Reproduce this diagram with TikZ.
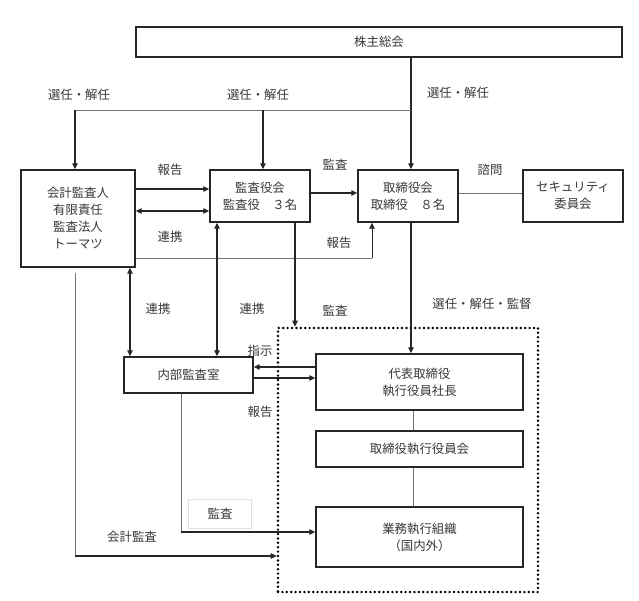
\documentclass[tikz,border=0pt]{standalone}
\usepackage{fontspec}
\newfontfamily\jp{Noto Sans CJK JP}
\usetikzlibrary{arrows.meta}
\begin{document}
\begin{tikzpicture}[x=1pt,y=-1pt,
  font=\jp\fontsize{12.4}{17}\selectfont,
  txt/.style={text=black!78},
  box/.style={draw=black!85, line width=1.4pt, align=center, text=black!78, inner sep=0pt},
  arr/.style={draw=black!85, line width=1.1pt, -{Triangle[length=6pt,width=5.5pt]}},
  darr/.style={draw=black!85, line width=1.1pt, {Triangle[length=6pt,width=5.5pt]}-{Triangle[length=6pt,width=5.5pt]}},
  gline/.style={draw=black!55, line width=0.8pt},
  dotbox/.style={draw=black, line width=2.7pt, dash pattern=on 0pt off 4.4pt, line cap=round, inner sep=0pt}
]
\useasboundingbox (0,0) rectangle (639,600);
\fill[white] (0,0) rectangle (639,600);

% boxes
\node[box, minimum width=486pt, minimum height=30pt] (kabu) at (379,42) {株主総会};
\node[box, minimum width=114pt, minimum height=97pt] (kaikei) at (78,218.5) {会計監査人\\有限責任\\監査法人\\トーマツ};
\node[box, minimum width=100pt, minimum height=52pt] (kanyaku) at (260,196) {監査役会\\監査役　３名};
\node[box, minimum width=100pt, minimum height=52pt] (tori) at (408,196) {取締役会\\取締役　８名};
\node[box, minimum width=100pt, minimum height=52pt] (sec) at (573,196) {セキュリティ\\委員会};
\node[box, minimum width=129pt, minimum height=36pt] (naibu) at (188.5,375) {内部監査室};
\node[dotbox, minimum width=260pt, minimum height=264pt] (exec) at (408,460) {};
\node[box, minimum width=207pt, minimum height=56pt] (daihyo) at (419.5,382) {代表取締役\\執行役員社長};
\node[box, minimum width=207pt, minimum height=36pt] (kaigi) at (419.5,449) {取締役執行役員会};
\node[box, minimum width=207pt, minimum height=60pt] (gyomu) at (419.5,537) {業務執行組織\\（国内外）};

% helper coordinates
\coordinate (c1) at (75,110);
\coordinate (c2) at (263,110);
\coordinate (c3) at (411,110);

% election lines
\draw[arr] (kabu.south -| c3) -- (tori.north -| c3);
\draw[gline] (c1) -- (c3);
\draw[arr] (c1) -- (kaikei.north -| c1);
\draw[arr] (c2) -- (kanyaku.north -| c2);

% auditor <-> audit board
\draw[arr] (kaikei.east |- 0,189) -- (kanyaku.west |- 0,189);
\draw[darr] (kaikei.east |- 0,211) -- (kanyaku.west |- 0,211);
% audit board -> board
\draw[arr] (kanyaku.east |- 0,193) -- (tori.west |- 0,193);
% board -- security
\draw[gline] (tori.east |- 0,193) -- (sec.west |- 0,193);
% auditor report to board
\coordinate (r1) at (372,258);
\draw[gline] (kaikei.east |- r1) -- (r1);
\draw[arr, line width=0.9pt] (r1) -- (tori.south -| r1);

% links to internal audit
\draw[darr] (kaikei.south -| 130,0) -- (naibu.north -| 130,0);
\draw[darr] (kanyaku.south -| 217,0) -- (naibu.north -| 217,0);
% audit board -> exec area
\draw[arr] (kanyaku.south -| 295,0) -- (exec.north -| 295,0);
% board -> president
\draw[arr] (tori.south -| c3) -- (daihyo.north -| c3);

% instruction / report
\draw[arr] (daihyo.west |- 0,367) -- (naibu.east |- 0,367);
\draw[arr] (naibu.east |- 0,378) -- (daihyo.west |- 0,378);

% internal chain
\draw[gline] (daihyo.south -| 413,0) -- (kaigi.north -| 413,0);
\draw[gline] (kaigi.south -| 413,0) -- (gyomu.north -| 413,0);

% internal audit -> business org
\coordinate (a1) at (181,532);
\draw[gline] (naibu.south -| a1) -- (a1);
\draw[arr] (a1) -- (gyomu.west |- a1);

% accounting audit
\coordinate (k1) at (75,556);
\draw[gline] (kaikei.south -| k1) ++(0,5) -- (k1);
\draw[arr] (k1) -- (exec.west |- k1);

% labels
\node[txt] (l1) at (79,95) {選任・解任};
\node[txt] (l2) at (258,95) {選任・解任};
\node[txt] (l3) at (458,93) {選任・解任};
\node[txt] (l4) at (170,170) {報告};
\node[txt] (l5) at (170,237) {連携};
\node[txt] (l6) at (335,165) {監査};
\node[txt] (l7) at (490,170) {諮問};
\node[txt] (l8) at (339,243) {報告};
\node[txt] (l9) at (158,309) {連携};
\node[txt] (l10) at (252,309) {連携};
\node[txt] (l11) at (335,311) {監査};
\node[txt] (l12) at (482,304) {選任・解任・監督};
\node[txt] (l13) at (260,351) {指示};
\node[txt] (l14) at (260,412) {報告};
\node[txt, draw=black!12, line width=0.6pt, minimum width=63pt, minimum height=29pt, inner sep=0pt] (l15) at (220,514) {監査};
\node[txt] (l16) at (132,537) {会計監査};
\end{tikzpicture}
\end{document}
